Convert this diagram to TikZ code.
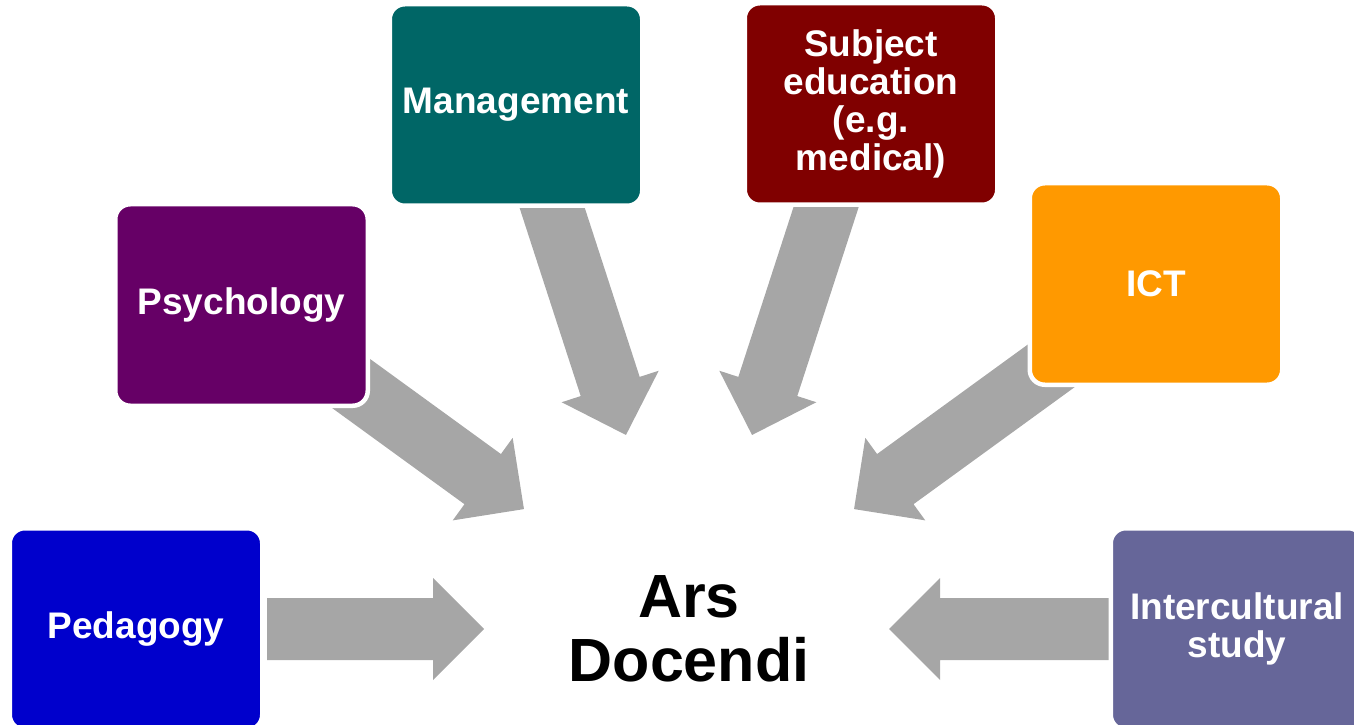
\documentclass[tikz,border=0pt]{standalone}
\usepackage{fontspec}
\setmainfont{Liberation Sans}
\usetikzlibrary{calc}

\definecolor{pedblue}{HTML}{0000CC}
\definecolor{psypurple}{HTML}{660066}
\definecolor{manteal}{HTML}{006666}
\definecolor{subred}{HTML}{800000}
\definecolor{ictorange}{HTML}{FF9900}
\definecolor{intslate}{HTML}{666699}
\definecolor{arrowgray}{HTML}{A6A6A6}

\begin{document}
\begin{tikzpicture}[%
        x=1pt, y=1pt,
        topic/.style={rectangle, rounded corners=15pt, draw=white, line width=4.5pt,
            minimum width=252.5pt, minimum height=201.5pt, align=center,
            text=white, font=\bfseries\fontsize{37}{38}\selectfont},
        bigarrow/.style={fill=arrowgray, to path={
            ($(\tikztostart)!31pt!90:(\tikztotarget)$)
            -- ($(\tikztotarget)!51pt!(\tikztostart)!31pt!90:(\tikztotarget)$)
            -- ($(\tikztotarget)!51pt!(\tikztostart)!51pt!90:(\tikztotarget)$)
            -- (\tikztotarget)
            -- ($(\tikztotarget)!51pt!(\tikztostart)!51pt!-90:(\tikztotarget)$)
            -- ($(\tikztotarget)!51pt!(\tikztostart)!31pt!-90:(\tikztotarget)$)
            -- ($(\tikztostart)!31pt!-90:(\tikztotarget)$)
            -- cycle}}
        ]
        \path[use as bounding box, clip] (0,0) rectangle (1354,724);

        \node[font=\bfseries\fontsize{61}{64}\selectfont, align=center] (ars) at (689,95) {Ars\\Docendi};

        % arrow ends
        \coordinate (ped-tail) at ($(ars)+(180:422pt)$);
        \coordinate (ped-tip)  at ($(ars)+(180:205pt)$);
        \coordinate (psy-tail) at ($(ars)+(144:430pt)$);
        \coordinate (psy-tip)  at ($(ars)+(144:204pt)$);
        \coordinate (man-tail) at ($(ars)+(108:460pt)$);
        \coordinate (man-tip)  at ($(ars)+(108:204pt)$);
        \coordinate (sub-tail) at ($(ars)+(72:460pt)$);
        \coordinate (sub-tip)  at ($(ars)+(72:204pt)$);
        \coordinate (ict-tail) at ($(ars)+(36:460pt)$);
        \coordinate (ict-tip)  at ($(ars)+(36:204pt)$);
        \coordinate (int-tail) at ($(ars)+(0:420pt)$);
        \coordinate (int-tip)  at ($(ars)+(0:200pt)$);

        \fill[bigarrow] (ped-tail) to (ped-tip);
        \fill[bigarrow] (psy-tail) to (psy-tip);
        \fill[bigarrow] (man-tail) to (man-tip);
        \fill[bigarrow] (sub-tail) to (sub-tip);
        \fill[bigarrow] (ict-tail) to (ict-tip);
        \fill[bigarrow] (int-tail) to (int-tip);

        % boxes
        \node[topic, fill=pedblue]   (ped) at (136,95)    {Pedagogy};
        \node[topic, fill=psypurple] (psy) at (241.5,419) {Psychology};
        \node[topic, fill=manteal]   (man) at (516,619)   {Management};
        \node[topic, fill=subred]    (sub) at (871,620)   {Subject\\education\\(e.g.\\medical)};
        \node[topic, fill=ictorange] (ict) at (1156,440)  {ICT};
        \node[topic, fill=intslate]  (int) at (1237,95)   {Intercultural\\study};
\end{tikzpicture}
\end{document}
